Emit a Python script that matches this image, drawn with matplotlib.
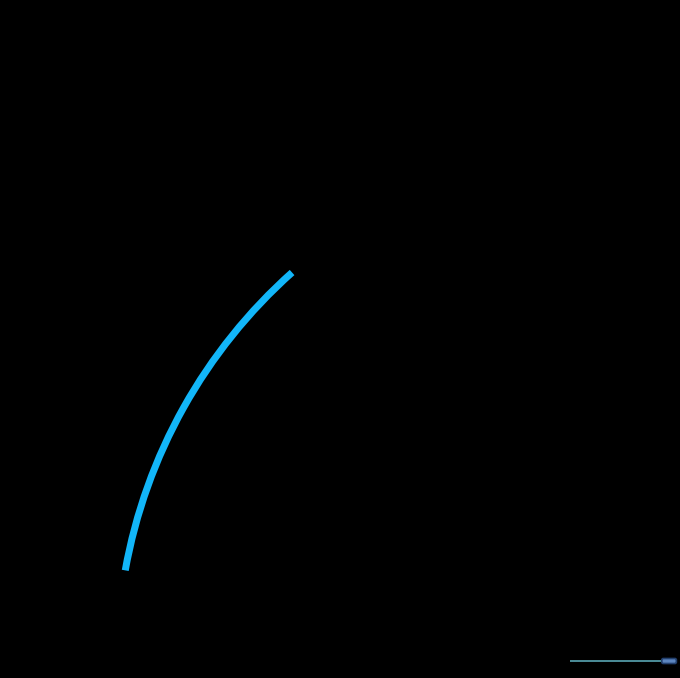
import matplotlib
matplotlib.use('Agg')
import matplotlib.pyplot as plt
from matplotlib.patches import FancyBboxPatch
import numpy as np

# ---- data ----
arc_theta_start = [131.7]      # degrees
arc_theta_span = [38.1]        # degrees
arc_radius = [523]             # radial value
slider_range = [0, 100]
slider_window = [84, 100]

# ---- figure ----
W, H = 680, 678
fig = plt.figure(figsize=(W / 100, H / 100), dpi=100, facecolor='black')

cx, cy = 640, 663  # pixel centre of the polar system (from top)
R = 560
ax = fig.add_axes([(cx - R) / W, (H - cy - R) / H, 2 * R / W, 2 * R / H],
                  projection='polar')
ax.set_facecolor('none')
ax.set_ylim(0, R)
ax.axis('off')
thick = 7
for t0, span, r in zip(arc_theta_start, arc_theta_span, arc_radius):
    ax.bar(np.deg2rad(t0 + span / 2), thick, width=np.deg2rad(span),
           bottom=r - thick / 2, color='#12b6f9', edgecolor='none',
           align='center')

# slider
ax2 = fig.add_axes([570 / W, (H - 667) / H, 108 / W, 12 / H])
ax2.set_facecolor('none')
ax2.axis('off')
ax2.set_xlim(slider_range[0], slider_range[1])
ax2.set_ylim(0, 12)
ax2.plot([slider_range[0], slider_window[0]], [6, 6], color='#5aa6b4', lw=1.2,
         solid_capstyle='butt')
box = FancyBboxPatch((slider_window[0] + 1, 3.5), slider_window[1] - slider_window[0] - 2.5, 5,
                     boxstyle='round,pad=0,rounding_size=1.5',
                     facecolor='#5d86c0', edgecolor='#23406e', lw=1.2)
ax2.add_patch(box)

fig.savefig('out.png', dpi=100, facecolor='black')
